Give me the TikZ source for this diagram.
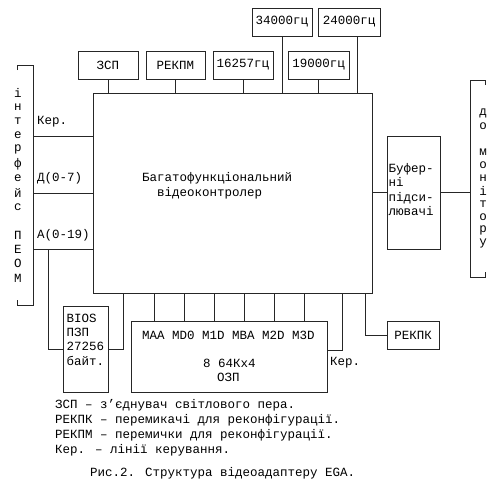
\documentclass[tikz,border=0pt]{standalone}
\usepackage{fontspec}
\setmainfont{Liberation Mono}
\begin{document}
\begin{tikzpicture}[x=1pt,y=-1pt,
  every node/.style={font=\fontsize{12.5}{15}\selectfont, inner sep=0pt, text=black},
  box/.style={draw=black!85, line width=0.8pt},
  ln/.style={draw=black!85, line width=0.8pt},
  lbl/.style={anchor=west}]
\useasboundingbox (0,0) rectangle (503,487);
% boxes
\node[box, minimum width=279, minimum height=200] (main) at (232.5,193) {};
\node[box, minimum width=60, minimum height=28] (zsp) at (108,65) {ЗСП};
\node[box, minimum width=59, minimum height=28] (rekpm) at (175.5,65) {РЕКПМ};
\node[box, minimum width=60, minimum height=28] (fa) at (243,65) {16257гц};
\node[box, minimum width=61, minimum height=28] (fb) at (318.5,65) {19000гц};
\node[box, minimum width=60, minimum height=28] (fc) at (282,22) {34000гц};
\node[box, minimum width=62, minimum height=28] (fd) at (349,22) {24000гц};
\node[box, minimum width=53, minimum height=113] (buf) at (413.5,192.5) {};
\node[box, minimum width=45, minimum height=86] (bios) at (85.5,349) {};
\node[box, minimum width=196, minimum height=71] (mem) at (229,356.5) {};
\node[box, minimum width=52, minimum height=28] (rekpk) at (413,335) {РЕКПК};
% top connectors
\draw[ln] (zsp.south) -- (zsp.south |- main.north);
\draw[ln] (rekpm.south) -- (rekpm.south |- main.north);
\draw[ln] (fa.south) -- (fa.south |- main.north);
\draw[ln] (fb.south) -- (fb.south |- main.north);
\draw[ln] (fc.south) -- (fc.south |- main.north);
\draw[ln] ([xshift=8]fd.south) -- ([xshift=8]fd.south |- main.north);
% left bracket
\coordinate (lbt) at (33,65);
\coordinate (lbb) at (33,305);
\draw[ln] ([xshift=-16,yshift=-5]lbt) -- ([xshift=-16]lbt) -- (lbt) -- (lbb) -- ([xshift=-16]lbb) -- ([xshift=-16,yshift=5]lbb);
\coordinate (ker) at (33,136);
\coordinate (dat) at (33,193);
\coordinate (adr) at (33,249);
\draw[ln] (ker) -- (ker -| main.west);
\draw[ln] (dat) -- (dat -| main.west);
\draw[ln] (adr) -- (adr -| main.west);
\coordinate (aj) at (48,249);
\draw[ln] (aj) |- (bios.west);
\draw[ln] (bios.east) -| ([xshift=31]main.south west);
\node[lbl] (tker) at (37,122) {Кер.};
\node[lbl] (tdat) at (37,178) {Д(0-7)};
\node[lbl] (tadr) at (37,235) {А(0-19)};
% left vertical text
\foreach \c [count=\i from 0] in {і,н,т,е,р,ф,е,й,с,{},П,Е,О,М}
  \node (li\i) at (18,93+14.23*\i) {\c};
% right bracket
\coordinate (rbt) at (470,80);
\coordinate (rbb) at (470,277);
\draw[ln] ([xshift=15,yshift=-5]rbt) -- ([xshift=15]rbt) -- (rbt) -- (rbb) -- ([xshift=15]rbb) -- ([xshift=15,yshift=5]rbb);
\foreach \c [count=\i from 0] in {д,о,{},м,о,н,і,т,о,р,у}
  \node (ri\i) at (483,113+13*\i) {\c};
\draw[ln] (main.east |- buf.west) -- (buf.west);
\draw[ln] (buf.east) -- (buf.east -| rbt);
% buffer text
\node[anchor=north west, align=left, font=\fontsize{12.5}{14.5}\selectfont] (buft) at (388.5,163) {Буфер-\\ні\\підси-\\лювачі};
% main text
\node[lbl] (m1) at (142,178) {Багатофункціональний};
\node[lbl] (m2) at (157,193) {відеоконтролер};
% bios text
\node[anchor=north west, align=left, font=\fontsize{12.5}{14.2}\selectfont] (biost) at (66.5,314) {BIOS\\ПЗП\\27256\\байт.};
% memory connectors
\foreach \x in {154,184,214,244,274,304}
  \draw[ln] (main.south -| \x,0) -- (mem.north -| \x,0);
\node[lbl] (memt1) at (142,335) {MAA MD0 M1D MBA M2D M3D};
\node[lbl] (memt2) at (203,363) {8 64Кх4};
\node[lbl] (memt3) at (217,377) {ОЗП};
\coordinate (kerm) at (342,350);
\draw[ln] (main.south -| kerm) -- (kerm) -- (kerm -| mem.east);
\node[lbl] (tkerm) at (330,363) {Кер.};
\draw[ln] (main.south -| 365,0) |- (rekpk.west);
% legend
\node[lbl] (lg1) at (55,405) {ЗСП – з'єднувач світлового пера.};
\node[lbl] (lg2) at (55,420) {РЕКПК – перемикачі для реконфігурації.};
\node[lbl] (lg3) at (55,435) {РЕКПМ – перемички для реконфігурації.};
\node[lbl] (lg4) at (55,450) {Кер. – лінії керування.};
\node[lbl] (cap) at (90,473) {Рис.2. Структура відеоадаптеру EGA.};
\end{tikzpicture}
\end{document}
